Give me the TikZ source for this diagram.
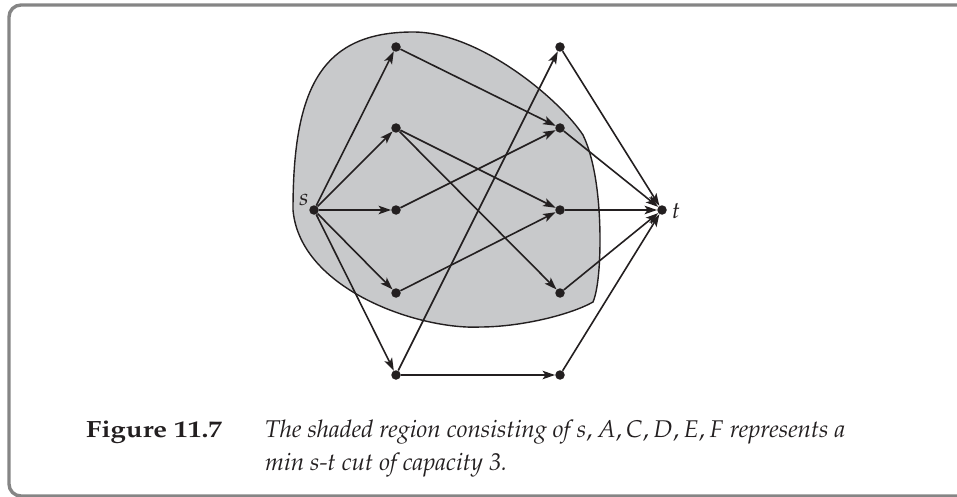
\documentclass[tikz,border=0pt]{standalone}
\usepackage[T1]{fontenc}
\usepackage{mathpazo}
\usetikzlibrary{arrows.meta}
\definecolor{ink}{HTML}{231F20}
\definecolor{shade}{HTML}{C8C9CB}
\definecolor{framegray}{HTML}{858585}
\begin{document}
\begin{tikzpicture}[x=1pt,y=-1pt,
  dot/.style={circle,fill=ink,inner sep=0pt,minimum size=9.5pt},
  arc/.style={draw=ink,line width=1.6pt,-{Stealth[length=12.5pt,width=8.5pt,inset=3pt]}},
  lbl/.style={font=\fontsize{23.5}{28}\selectfont,inner sep=0pt,text=ink},
  captxt/.style={font=\fontsize{24.2}{29}\selectfont,inner sep=0pt,text=ink,anchor=base west}]
\useasboundingbox (0,0) rectangle (957,497);
\begin{scope}
\clip (0,0) rectangle (957,497);
\draw[framegray,line width=3.4pt,rounded corners=12pt] (9,5) rectangle (1000,496);
\end{scope}
\path[fill=shade,draw=ink,line width=1.4pt] (293,210) .. controls (293,90) and (320,32) .. (413,32)
  .. controls (480,32) and (560,100) .. (583,135)
  .. controls (595,160) and (600,200) .. (600,240)
  .. controls (600,265) and (598,290) .. (593,302)
  .. controls (570,315) and (520,327) .. (480,327)
  .. controls (420,330) and (300,290) .. (293,210) -- cycle;
\node[dot] (s) at (314,210) {};
\node[dot] (t) at (662,210) {};
\node[dot] (a) at (396,47) {};
\node[dot] (b) at (396,128) {};
\node[dot] (c) at (396,210) {};
\node[dot] (d) at (396,293) {};
\node[dot] (e) at (396,375) {};
\node[dot] (f) at (560,47) {};
\node[dot] (g) at (560,128) {};
\node[dot] (h) at (560,210) {};
\node[dot] (i) at (560,293) {};
\node[dot] (j) at (560,375) {};
\foreach \u/\v in {s/a,s/b,s/c,s/d,s/e,a/g,b/h,b/i,c/g,d/h,e/f,e/j,f/t,g/t,h/t,i/t,j/t}
  \draw[arc] (\u) -- (\v);
\node[lbl] (sl) at (304,200) {$s$};
\node[lbl] (tl) at (676,211) {$t$};
\node[lbl,anchor=base west,xscale=1.17] (fig) at (86,437) {\textbf{Figure 11.7}};
\node[captxt] (cap1) at (265,437) {\itshape The shaded region consisting of $s,A,C,D,E,F$ represents a};
\node[captxt] (cap2) at (265,470) {\itshape min s-t cut of capacity 3.};
\end{tikzpicture}
\end{document}
